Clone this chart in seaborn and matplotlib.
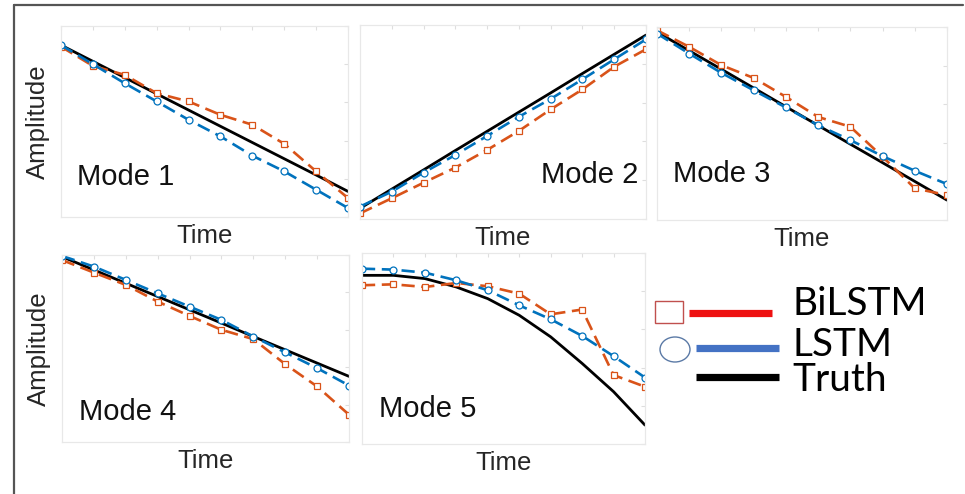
import numpy as np
import pandas as pd
import matplotlib
matplotlib.use("Agg")
import matplotlib.pyplot as plt
from matplotlib.patches import Rectangle, Ellipse
from matplotlib.lines import Line2D
import seaborn as sns

sns.set_style("white")
plt.rcParams['font.family'] = ['Liberation Sans', 'DejaVu Sans']

# --- data (amplitudes normalised to the axes range 0..1) ---
time = list(range(10))

modes = ["Mode 1", "Mode 2", "Mode 3", "Mode 4", "Mode 5"]

truth_1 = [0.900, 0.815, 0.730, 0.645, 0.560, 0.475, 0.390, 0.305, 0.220, 0.134]
lstm_1 = [0.900, 0.800, 0.700, 0.605, 0.509, 0.422, 0.321, 0.239, 0.143, 0.047]
bilstm_1 = [0.892, 0.791, 0.744, 0.648, 0.605, 0.535, 0.483, 0.383, 0.239, 0.099]

truth_2 = [0.055, 0.154, 0.253, 0.353, 0.452, 0.551, 0.650, 0.750, 0.849, 0.948]
lstm_2 = [0.064, 0.141, 0.239, 0.330, 0.428, 0.527, 0.619, 0.720, 0.823, 0.926]
bilstm_2 = [0.029, 0.107, 0.187, 0.265, 0.356, 0.454, 0.565, 0.668, 0.785, 0.875]

truth_3 = [0.974, 0.877, 0.781, 0.684, 0.587, 0.490, 0.393, 0.297, 0.200, 0.103]
lstm_3 = [0.966, 0.862, 0.762, 0.672, 0.583, 0.491, 0.414, 0.331, 0.255, 0.186]
bilstm_3 = [0.983, 0.897, 0.802, 0.736, 0.638, 0.534, 0.483, 0.328, 0.164, 0.129]

truth_4 = [0.991, 0.920, 0.849, 0.778, 0.707, 0.636, 0.564, 0.493, 0.422, 0.351]
lstm_4 = [0.995, 0.938, 0.867, 0.795, 0.724, 0.653, 0.564, 0.479, 0.395, 0.302]
bilstm_4 = [0.973, 0.906, 0.840, 0.751, 0.674, 0.600, 0.550, 0.416, 0.297, 0.146]

truth_5 = [0.883, 0.883, 0.866, 0.822, 0.761, 0.674, 0.561, 0.422, 0.274, 0.099]
lstm_5 = [0.918, 0.913, 0.897, 0.857, 0.805, 0.726, 0.653, 0.566, 0.460, 0.348]
bilstm_5 = [0.831, 0.836, 0.822, 0.843, 0.826, 0.787, 0.679, 0.704, 0.361, 0.300]

truths = [truth_1, truth_2, truth_3, truth_4, truth_5]
lstms = [lstm_1, lstm_2, lstm_3, lstm_4, lstm_5]
bilstms = [bilstm_1, bilstm_2, bilstm_3, bilstm_4, bilstm_5]

legend_labels = ["BiLSTM", "LSTM", "Truth"]

# --- layout (pixel boxes: left, top, right, bottom) ---
W, H = 965, 494
boxes = [(61, 26, 348, 217), (360, 25, 646, 219), (657, 27, 947, 220),
         (62, 255, 349, 442), (362, 253, 645, 444)]
text_pos = [(0.056, 0.17, 'left'), (0.972, 0.186, 'right'), (0.055, 0.197, 'left'),
            (0.059, 0.118, 'left'), (0.06, 0.141, 'left')]

ORANGE = '#D95319'
BLUE = '#0072BD'
DASH = (0, (5, 2.5))

fig = plt.figure(figsize=(W / 100, H / 100), dpi=100)

for i in range(5):
    l, t, r, b = boxes[i]
    ax = fig.add_axes([l / W, 1 - b / H, (r - l) / W, (b - t) / H])
    df = pd.DataFrame({"Time": time, "Truth": truths[i],
                       "LSTM": lstms[i], "BiLSTM": bilstms[i]})
    sns.lineplot(data=df, x="Time", y="Truth", ax=ax, color='black', lw=2.0)
    sns.lineplot(data=df, x="Time", y="BiLSTM", ax=ax, color=ORANGE, lw=1.9,
                 linestyle=DASH, marker='s', markersize=4.5,
                 markerfacecolor='white', markeredgecolor=ORANGE, markeredgewidth=0.9)
    sns.lineplot(data=df, x="Time", y="LSTM", ax=ax, color=BLUE, lw=1.9,
                 linestyle=DASH, marker='o', markersize=5,
                 markerfacecolor='white', markeredgecolor=BLUE, markeredgewidth=0.9)
    ax.set_xlim(0, 9)
    ax.set_ylim(0, 1)
    ax.set_xticks(time)
    ax.set_yticks(np.linspace(0, 1, 6))
    ax.tick_params(direction='in', top=True, right=True, length=3, width=0.8,
                   color='#dedede', labelbottom=False, labelleft=False)
    for sp in ax.spines.values():
        sp.set_color('#e8e8e8')
        sp.set_linewidth(0.9)
    ax.set_xlabel("Time", fontsize=18.5, labelpad=5)
    if i in (0, 3):
        ax.set_ylabel("Amplitude", fontsize=18.5, labelpad=8)
    else:
        ax.set_ylabel("")
    tx, ty, ha = text_pos[i]
    ax.text(tx, ty, modes[i], transform=ax.transAxes, fontsize=21, ha=ha,
            va='baseline', color='#111111')

# --- hand-made legend and frame, in pixel coordinates ---
ov = fig.add_axes([0, 0, 1, 1], zorder=5)
ov.set_xlim(0, W)
ov.set_ylim(H, 0)
ov.axis('off')
ov.patch.set_alpha(0)

ov.add_patch(Rectangle((655, 301), 28, 22, fill=False, ec='#c0504d', lw=1.0))
ov.add_patch(Ellipse((675, 349.5), 30, 25, fill=False, ec='#5b7aa6', lw=1.0))
ov.add_line(Line2D([689, 772], [313, 313], color='#ee1111', lw=5.2, solid_capstyle='butt'))
ov.add_line(Line2D([696, 779], [348, 348], color='#4472C4', lw=5.2, solid_capstyle='butt'))
ov.add_line(Line2D([696, 779], [377, 377], color='black', lw=5.2, solid_capstyle='butt'))
for lab, yb in zip(legend_labels, [315, 356, 391]):
    ov.text(792, yb, lab, fontsize=28, va='baseline', ha='left',
            family=['Lato', 'DejaVu Sans'], color='black')

ov.add_line(Line2D([14, 963], [5, 5], color='#555555', lw=1.6))
ov.add_line(Line2D([14, 14], [5, H], color='#555555', lw=1.6))

fig.savefig("out.png", dpi=100)
